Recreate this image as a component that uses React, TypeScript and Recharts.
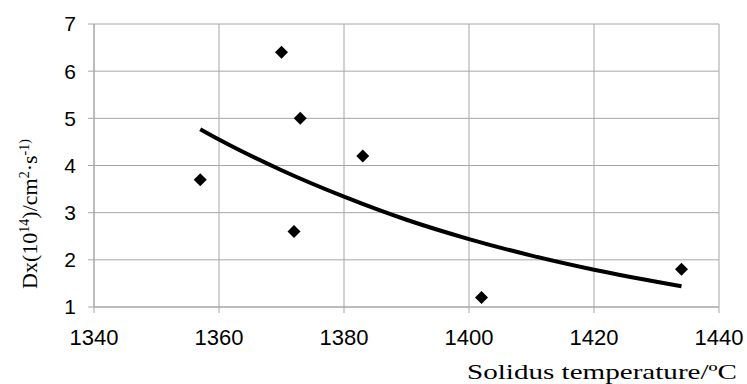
import { ScatterChart, Scatter, XAxis, YAxis, CartesianGrid } from 'recharts';

// measured points
const tempX = [1357, 1370, 1373, 1383, 1372, 1402, 1434];
const dxY = [3.7, 6.4, 5.0, 4.2, 2.6, 1.2, 1.8];

// trend curve
const trendX = [1357, 1360, 1370, 1380, 1390, 1400, 1410, 1420, 1434];
const trendY = [4.77, 4.55, 3.9, 3.34, 2.85, 2.44, 2.09, 1.79, 1.44];

const xTicks = [1340, 1360, 1380, 1400, 1420, 1440];
const yTicks = [1, 2, 3, 4, 5, 6, 7];

const points = tempX.map((x, i) => ({ x, y: dxY[i] }));
const trend = trendX.map((x, i) => ({ x, y: trendY[i] }));

const GRID = '#a6a6a6';
const SANS = 'Arial, "Liberation Sans", sans-serif';
const SERIF = '"Times New Roman", "Liberation Serif", serif';

const Diamond = (props: { cx?: number; cy?: number }) => {
  const { cx = 0, cy = 0 } = props;
  const r = 6.5;
  return <path d={`M${cx},${cy - r}L${cx + r},${cy}L${cx},${cy + r}L${cx - r},${cy}Z`} fill="#000" />;
};

const YTitle = () => (
  <text
    transform="translate(37,214) rotate(-90)"
    textAnchor="middle"
    fontFamily={SERIF}
    fontSize={22}
    fill="#000"
  >
    Dx(10<tspan dy={-8} fontSize={14}>14</tspan>
    <tspan dy={8}>)/cm</tspan>
    <tspan dy={-8} fontSize={14}>2</tspan>
    <tspan dy={8}>·s</tspan>
    <tspan dy={-8} fontSize={14}>-1)</tspan>
  </text>
);

// the original title is drawn a little stretched
const XTitle = () => (
  <text
    x={602}
    y={379}
    textAnchor="middle"
    fontFamily={SERIF}
    fontSize={22}
    fill="#000"
    textLength={270}
    lengthAdjust="spacingAndGlyphs"
  >
    Solidus temperature/ºC
  </text>
);

export default function App() {
  return (
    <div style={{ position: 'absolute', left: 0, top: 0, width: 747, height: 384, background: '#fff' }}>
      <ScatterChart width={747} height={384} margin={{ top: 24, right: 28, bottom: 0, left: 0 }}>
        <CartesianGrid stroke={GRID} strokeWidth={1} />
        <XAxis
          type="number"
          dataKey="x"
          domain={[1340, 1440]}
          ticks={xTicks}
          height={77}
          axisLine={{ stroke: GRID }}
          tickLine={{ stroke: GRID }}
          tickSize={6}
          tickMargin={16}
          tick={{ fontSize: 22, fill: '#000', fontFamily: SANS }}
          label={{ content: () => <XTitle /> }}
        />
        <YAxis
          type="number"
          dataKey="y"
          domain={[1, 7]}
          ticks={yTicks}
          width={94}
          axisLine={{ stroke: GRID }}
          tickLine={{ stroke: GRID }}
          tickSize={6}
          tickMargin={12}
          tick={{ fontSize: 21, fill: '#000', fontFamily: SANS }}
          label={{ content: () => <YTitle /> }}
        />
        <Scatter
          data={trend}
          line={{ stroke: '#000', strokeWidth: 4 }}
          lineJointType="monotoneX"
          shape={() => <g />}
          isAnimationActive={false}
        />
        <Scatter data={points} shape={<Diamond />} isAnimationActive={false} />
      </ScatterChart>
    </div>
  );
}
